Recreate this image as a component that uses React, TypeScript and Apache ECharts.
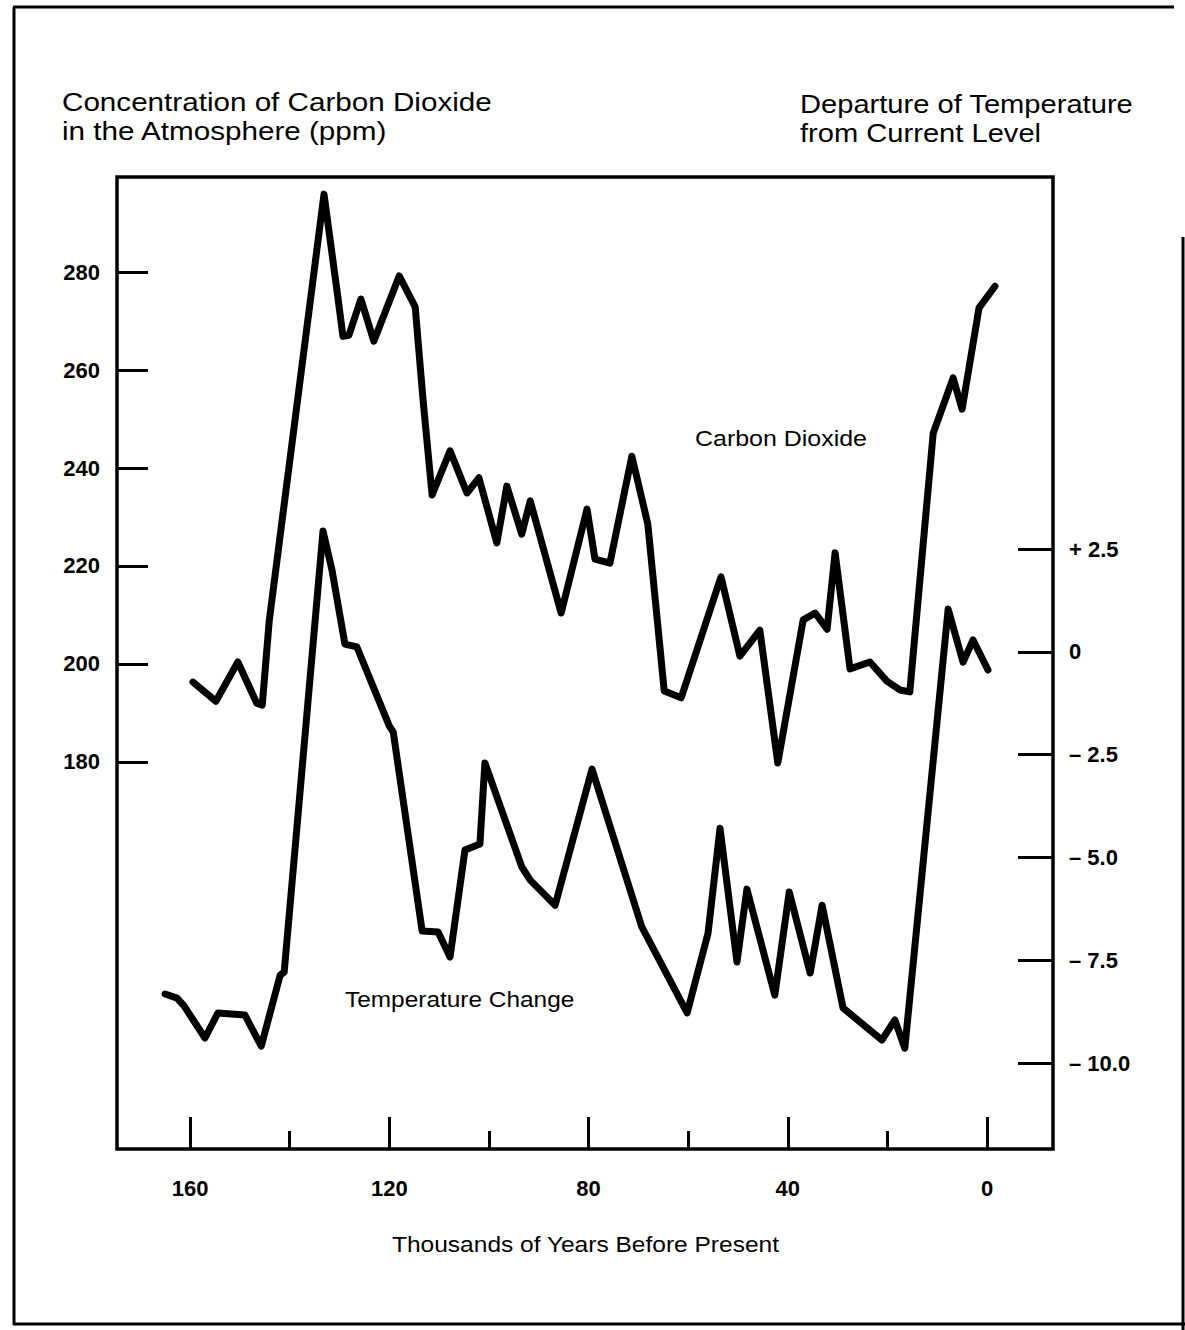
import React, { useEffect, useRef } from "react";
import * as echarts from "echarts";

// Thousands of years before present and CO2 concentration (ppm)
const co2Years = [
  159.4, 154.8, 150.4, 146.6, 145.5, 144.1, 133.1, 130.3, 129.3, 128.1, 125.7,
  123.1, 118.0, 114.8, 113.2, 111.4, 107.8, 104.4, 102.0, 98.4, 96.4, 93.4,
  91.7, 85.5, 80.3, 78.7, 75.7, 71.3, 68.1, 64.8, 61.4, 53.4, 49.6, 45.6,
  42.0, 36.9, 34.5, 32.1, 30.5, 27.5, 23.5, 20.1, 17.5, 15.5, 10.8, 6.8, 5.0,
  1.6, -1.6,
];
const co2Ppm = [
  196.3, 192.4, 200.4, 192.0, 191.6, 208.8, 295.9, 274.7, 266.9, 267.1, 274.5,
  265.9, 279.2, 272.9, 253.7, 234.5, 243.5, 234.9, 238.0, 224.7, 236.3, 226.5,
  233.3, 210.4, 231.6, 221.4, 220.6, 242.4, 228.6, 194.5, 193.1, 217.8, 201.6,
  206.9, 179.8, 209.0, 210.4, 207.1, 222.7, 199.0, 200.4, 196.5, 194.7, 194.3,
  247.1, 258.4, 252.0, 272.7, 277.1,
];

// Thousands of years before present and temperature departure (deg C)
const tempYears = [
  165.0, 162.6, 161.2, 157.0, 154.4, 149.0, 145.7, 141.9, 141.1, 133.3, 131.5,
  128.9, 126.5, 120.0, 119.2, 113.4, 110.2, 107.8, 104.8, 101.8, 100.8, 93.4,
  91.7, 86.7, 79.3, 69.3, 60.2, 56.0, 53.6, 50.2, 48.2, 42.6, 39.7, 35.5, 33.1,
  28.9, 21.1, 18.5, 16.5, 7.8, 4.8, 2.8, -0.2,
];
const tempDeg = [
  -8.32, -8.42, -8.61, -9.39, -8.78, -8.83, -9.59, -7.86, -7.79, 2.94, 1.99,
  0.19, 0.12, -1.8, -1.95, -6.79, -6.81, -7.42, -4.82, -4.67, -2.7, -5.23,
  -5.55, -6.16, -2.85, -6.69, -8.78, -6.84, -4.29, -7.54, -5.77, -8.35, -5.84,
  -7.81, -6.16, -8.66, -9.44, -8.95, -9.64, 1.04, -0.25, 0.29, -0.44,
];

const co2TickValues = [180, 200, 220, 240, 260, 280];
const tempTickValues = [2.5, 0, -2.5, -5, -7.5, -10];
const tempTickLabels = ["+ 2.5", "0", "\u2013 2.5", "\u2013 5.0", "\u2013 7.5", "\u2013 10.0"];
const yearMajorTicks = [160, 120, 80, 40, 0];
const yearMinorTicks = [140, 100, 60, 20];

const FONT = "Liberation Sans, Arial, Helvetica, sans-serif";

export default function App() {
  const ref = useRef<HTMLDivElement>(null);

  useEffect(() => {
    document.body.style.margin = "0";
    const chart = echarts.init(ref.current as HTMLDivElement, null, { renderer: "svg" });

    const labelStyle = {
      color: "#000",
      fontSize: 22,
      fontWeight: "bold" as const,
      fontFamily: FONT,
    };
    const tickStyle = { color: "#000", width: 3 };
    const noLine = { show: false, onZero: false };

    const txt = (
      text: string,
      x: number,
      y: number,
      size: number,
      scaleX: number,
      align: string = "left"
    ) => ({
      type: "text",
      x,
      y,
      scaleX,
      silent: true,
      style: {
        text,
        fill: "#000",
        fontSize: size,
        fontFamily: FONT,
        align,
        verticalAlign: "middle",
      },
    });

    const frame = (x1: number, y1: number, x2: number, y2: number) => ({
      type: "line",
      silent: true,
      shape: { x1, y1, x2, y2 },
      style: { stroke: "#000", lineWidth: 3 },
    });

    chart.setOption({
      animation: false,
      backgroundColor: "#fff",
      grid: {
        left: 117,
        top: 177,
        width: 936,
        height: 972,
        show: true,
        borderColor: "#000",
        borderWidth: 3.5,
        backgroundColor: "transparent",
      },
      xAxis: [
        {
          type: "value",
          inverse: true,
          min: -13.25,
          max: 174.66,
          position: "bottom",
          axisLine: noLine,
          splitLine: { show: false },
          axisTick: {
            show: true,
            inside: true,
            length: 32,
            lineStyle: tickStyle,
            customValues: yearMajorTicks,
          },
          axisLabel: {
            ...labelStyle,
            margin: 28,
            customValues: yearMajorTicks,
          },
        },
        {
          type: "value",
          inverse: true,
          min: -13.25,
          max: 174.66,
          position: "bottom",
          axisLine: noLine,
          splitLine: { show: false },
          axisTick: {
            show: true,
            inside: true,
            length: 18,
            lineStyle: tickStyle,
            customValues: yearMinorTicks,
          },
          axisLabel: { show: false },
        },
      ],
      yAxis: [
        {
          type: "value",
          position: "left",
          min: 101.0,
          max: 299.4,
          axisLine: noLine,
          splitLine: { show: false },
          axisTick: {
            show: true,
            inside: true,
            length: 31,
            lineStyle: tickStyle,
            customValues: co2TickValues,
          },
          axisLabel: {
            ...labelStyle,
            margin: 17,
            customValues: co2TickValues,
          },
        },
        {
          type: "value",
          position: "right",
          min: -12.09,
          max: 11.55,
          axisLine: noLine,
          splitLine: { show: false },
          axisTick: {
            show: true,
            inside: true,
            length: 35,
            lineStyle: tickStyle,
            customValues: tempTickValues,
          },
          axisLabel: {
            ...labelStyle,
            margin: 16,
            customValues: tempTickValues,
            formatter: (v: number) => {
              const i = tempTickValues.findIndex((t) => Math.abs(t - v) < 1e-6);
              return i >= 0 ? tempTickLabels[i] : "";
            },
          },
        },
      ],
      series: [
        {
          type: "line",
          name: "Carbon Dioxide",
          xAxisIndex: 0,
          yAxisIndex: 0,
          data: co2Years.map((y, i) => [y, co2Ppm[i]]),
          symbol: "none",
          silent: true,
          clip: false,
          lineStyle: { color: "#000", width: 7, join: "round", cap: "round" },
        },
        {
          type: "line",
          name: "Temperature Change",
          xAxisIndex: 0,
          yAxisIndex: 1,
          data: tempYears.map((y, i) => [y, tempDeg[i]]),
          symbol: "none",
          silent: true,
          clip: false,
          lineStyle: { color: "#000", width: 7, join: "round", cap: "round" },
        },
      ],
      graphic: [
        frame(13, 7, 1174, 7),
        frame(14, 7, 14, 1325),
        frame(13, 1324, 1185, 1324),
        frame(1183, 237, 1183, 1330),
        txt("Concentration of Carbon Dioxide", 62, 102, 26, 1.14),
        txt("in the Atmosphere (ppm)", 62, 131, 26, 1.14),
        txt("Departure of Temperature", 800, 104, 26, 1.12),
        txt("from Current Level", 800, 133, 26, 1.12),
        txt("Carbon Dioxide", 695, 439, 22, 1.135),
        txt("Temperature Change", 345, 999, 22, 1.11),
        txt("Thousands of Years Before Present", 392, 1244, 22, 1.115),
      ],
    });

    return () => chart.dispose();
  }, []);

  return <div ref={ref} style={{ width: 1185, height: 1330, background: "#fff" }} />;
}
